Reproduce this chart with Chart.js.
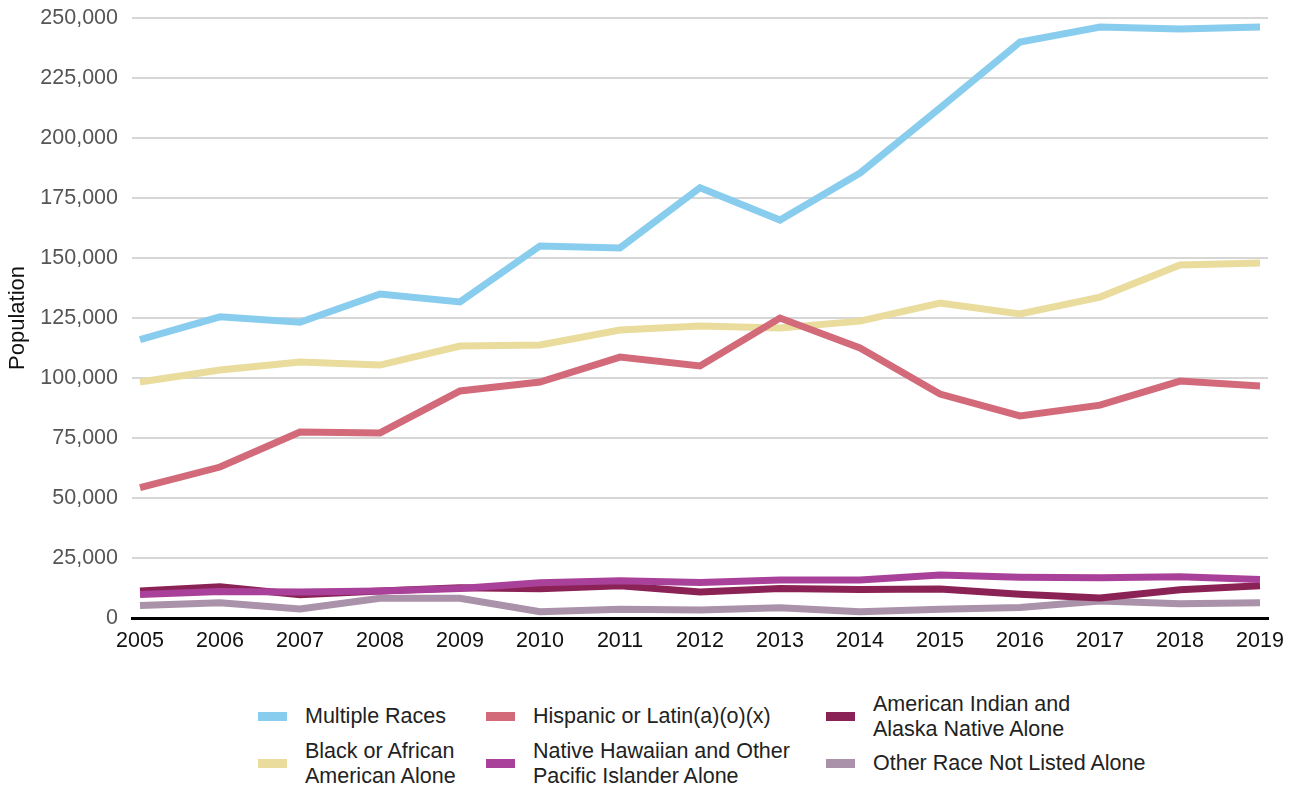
<!DOCTYPE html>
<html>
<head>
<meta charset="utf-8">
<script src="https://cdn.jsdelivr.net/npm/chart.js@4"></script>
<style>
  body { margin: 0; background: #fff; font-family: "Liberation Sans", Arial, sans-serif; }
  #wrap { position: relative; width: 1297px; height: 665px; }
  #legend { position: absolute; left: 258px; top: 693px; display: grid;
    grid-template-columns: 228px 340px 330px; grid-template-rows: 47px 47px; color: #222; font-size: 21.5px; line-height: 25px; }
  .item { display: flex; align-items: center; }
  .sw { width: 29px; height: 9px; margin-right: 18px; flex: none; }
</style>
</head>
<body>
<div id="wrap"><canvas id="chart" width="1297" height="665"></canvas></div>
<div id="legend"></div>
<script>
const years = [2005, 2006, 2007, 2008, 2009, 2010, 2011, 2012, 2013, 2014, 2015, 2016, 2017, 2018, 2019];
const multipleRaces = [116000, 125500, 123200, 135000, 131700, 155000, 154200, 179300, 165800, 185400, 212500, 240000, 246200, 245400, 246200];
const blackAlone = [98300, 103300, 106700, 105400, 113300, 113800, 120000, 121700, 120800, 123700, 131200, 126700, 133700, 147100, 147900];
const hispanic = [54300, 62900, 77500, 77100, 94600, 98300, 108700, 105000, 125000, 112500, 93300, 84200, 88700, 98700, 96700];
const nativeHawaiian = [9800, 11000, 10800, 11300, 12300, 14700, 15500, 14800, 15800, 15800, 17900, 17000, 16800, 17200, 16000];
const americanIndian = [11300, 13000, 9700, 11200, 12600, 12200, 13400, 10800, 12300, 11900, 12100, 9900, 8300, 11800, 13400];
const otherRace = [5200, 6400, 3800, 8200, 8200, 2600, 3600, 3300, 4300, 2600, 3600, 4400, 7100, 5900, 6400];
const yTicks = [0, 25000, 50000, 75000, 100000, 125000, 150000, 175000, 200000, 225000, 250000];

const series = [
  { label: 'Multiple Races', text: ['Multiple Races'], data: multipleRaces, color: '#89CDEE', order: 1 },
  { label: 'Hispanic or Latin(a)(o)(x)', text: ['Hispanic or Latin(a)(o)(x)'], data: hispanic, color: '#D26A7A', order: 2 },
  { label: 'American Indian and Alaska Native Alone', text: ['American Indian and', 'Alaska Native Alone'], data: americanIndian, color: '#8A2256', order: 5 },
  { label: 'Black or African American Alone', text: ['Black or African', 'American Alone'], data: blackAlone, color: '#E9DC9C', order: 3 },
  { label: 'Native Hawaiian and Other Pacific Islander Alone', text: ['Native Hawaiian and Other', 'Pacific Islander Alone'], data: nativeHawaiian, color: '#A9409A', order: 4 },
  { label: 'Other Race Not Listed Alone', text: ['Other Race Not Listed Alone'], data: otherRace, color: '#AA92AA', order: 6 },
];

const legend = document.getElementById('legend');
series.forEach(s => {
  const d = document.createElement('div');
  d.className = 'item';
  d.innerHTML = '<span class="sw" style="background:' + s.color + '"></span><span>' + s.text.join('<br>') + '</span>';
  legend.appendChild(d);
});

new Chart(document.getElementById('chart'), {
  type: 'line',
  data: {
    datasets: series.map(s => ({
      label: s.label,
      data: years.map((y, i) => ({ x: y, y: s.data[i] })),
      borderColor: s.color,
      backgroundColor: s.color,
      borderWidth: 7,
      pointRadius: 0,
      tension: 0,
      order: s.order,
      clip: false,
    })),
  },
  options: {
    responsive: false,
    animation: false,
    layout: { padding: { top: 18, right: 29, left: 0, bottom: 0 } },
    plugins: { legend: { display: false }, tooltip: { enabled: false } },
    scales: {
      x: {
        type: 'linear',
        min: 2004.9,
        max: 2019.1,
        afterBuildTicks: ax => { ax.ticks = years.map(v => ({ value: v })); },
        afterFit: ax => { ax.height = 47; ax.paddingLeft = 0; ax.paddingRight = 0; },
        grid: { display: false, drawTicks: false },
        border: { color: '#000', width: 3 },
        ticks: { color: '#111', font: { family: 'Liberation Sans', size: 21.5 }, padding: 10, maxRotation: 0, callback: v => String(v) },
      },
      y: {
        min: 0,
        max: 250000,
        afterBuildTicks: ax => { ax.ticks = yTicks.map(v => ({ value: v })); },
        afterFit: ax => { ax.width = 132; ax.paddingTop = 0; ax.paddingBottom = 0; },
        grid: { color: ctx => ctx.tick && ctx.tick.value === 0 ? 'rgba(0,0,0,0)' : '#d6d6d6', lineWidth: 2, drawTicks: false },
        border: { display: false },
        ticks: { color: '#555', font: { family: 'Liberation Sans', size: 21.5 }, padding: 14, callback: v => v.toLocaleString('en-US') },
        title: { display: true, text: 'Population', color: '#111', font: { family: 'Liberation Sans', size: 22 }, padding: { top: 5, bottom: 0 } },
      },
    },
  },
});
</script>
</body>
</html>
